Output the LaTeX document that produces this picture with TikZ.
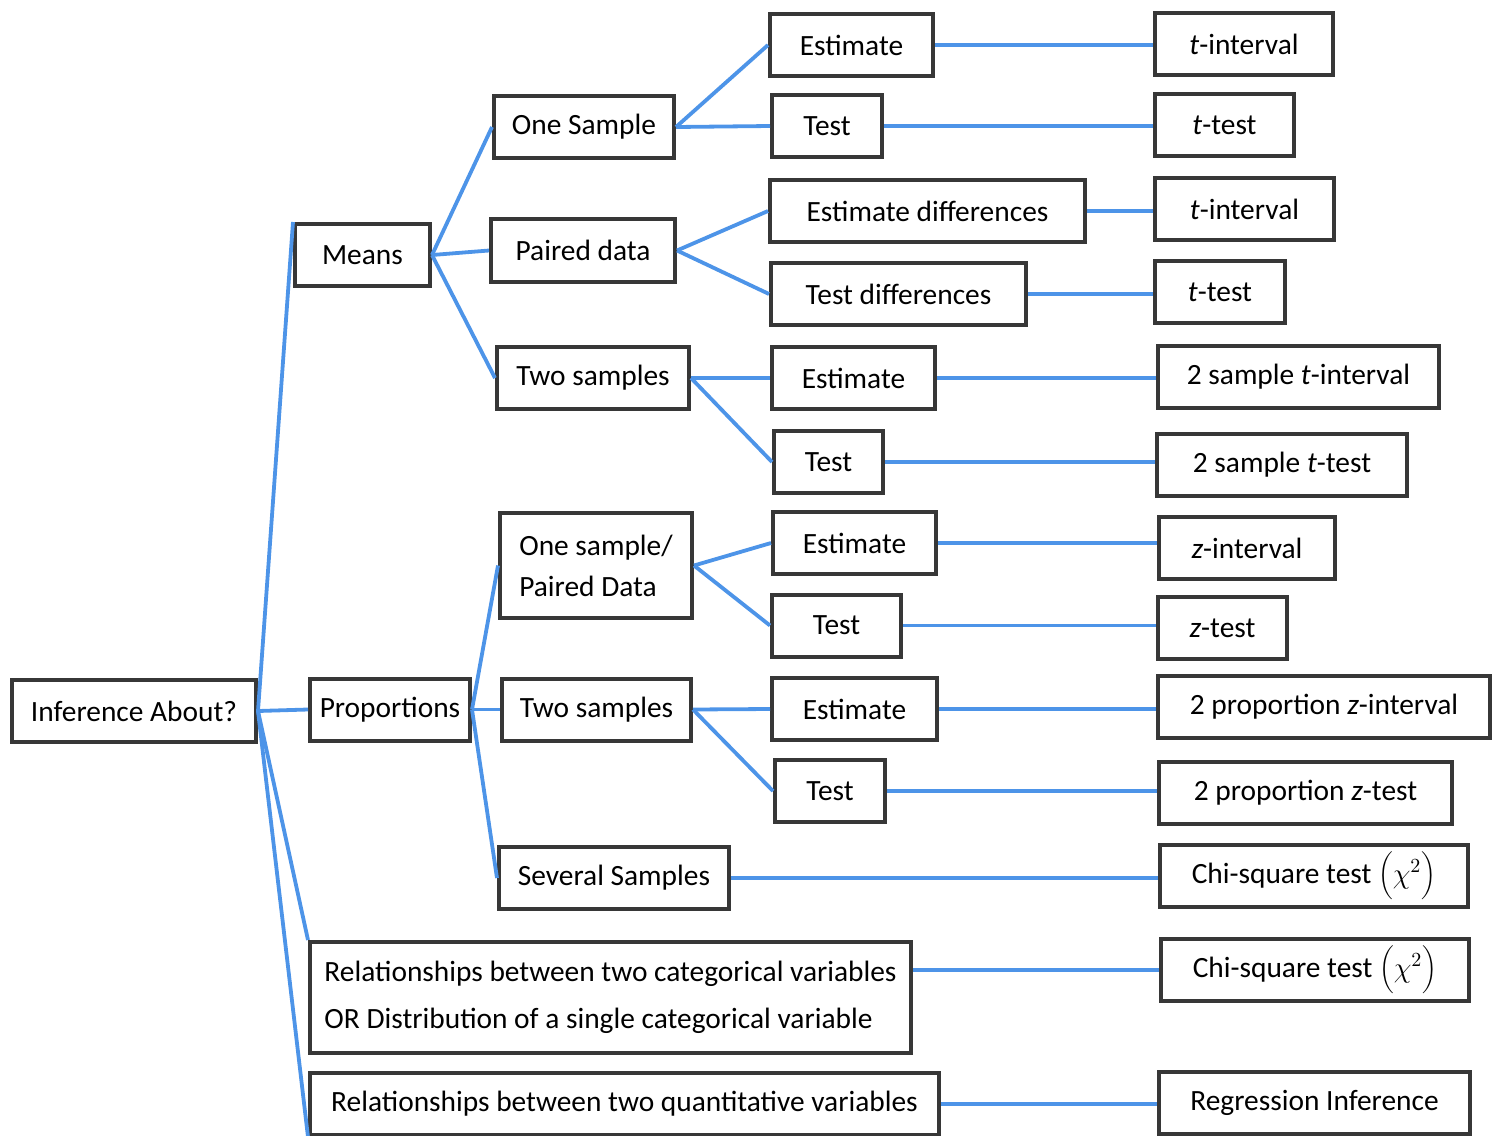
\documentclass[tikz,border=0pt]{standalone}
\usepackage{fontspec}
\setmainfont{Carlito}
\definecolor{linkblue}{RGB}{77,148,232}
\definecolor{boxgray}{RGB}{55,55,55}
\newcommand{\boxfont}{\fontsize{14.7}{20.5}\selectfont}
\newcommand{\chisq}{$\biggl(\chi^{2}\biggr)$}

\begin{document}
\begin{tikzpicture}[x=0.5pt, y=-0.5pt,
    box/.style={draw=boxgray, line width=2pt, fill=white, inner sep=0pt,
                minimum height=31pt, font=\boxfont},
    link/.style={draw=linkblue, line width=1.9pt}]
    \useasboundingbox (0,0) rectangle (1501,1136);

    % Root and first level
    \node[box, minimum width=122pt] (inf) at (134,711) {Inference About?};
    \node[box, minimum width=67.5pt] (means) at (362.5,255) {Means};
    \node[box, minimum width=80pt] (prop) at (390,709.5) {Proportions};
    \node[box, minimum width=300.5pt, minimum height=55.5pt, align=left,
          font=\fontsize{14.7}{23.5}\selectfont] (relcat) at (610.5,997.5)
          {Relationships between two categorical variables\\OR Distribution of a single categorical variable};
    \node[box, minimum width=314.5pt] (relquant) at (624.5,1104) {Relationships between two quantitative variables};

    % Second level: means
    \node[box, minimum width=90pt] (onesamp) at (584,127) {One Sample};
    \node[box, minimum width=92pt, minimum height=31.5pt] (paired) at (583,250.5) {Paired data};
    \node[box, minimum width=96pt] (twosamp) at (593,378) {Two samples};

    % Second level: proportions
    \node[box, minimum width=96pt, minimum height=52.5pt, align=left] (onepaired) at (596,565.5) {One sample/\\Paired Data};
    \node[box, minimum width=94.5pt] (twoprop) at (596.5,709.5) {Two samples};
    \node[box, minimum width=115pt] (several) at (614,878) {Several Samples};

    % Third level: estimate or test
    \node[box, minimum width=81.5pt] (esta) at (851.5,45) {Estimate};
    \node[box, minimum width=55pt] (testa) at (827,126) {Test};
    \node[box, minimum width=157.5pt] (estd) at (927.5,211) {Estimate differences};
    \node[box, minimum width=127.5pt] (testd) at (898.5,294) {Test differences};
    \node[box, minimum width=81.5pt] (estb) at (853.5,378) {Estimate};
    \node[box, minimum width=54.5pt] (testb) at (828.5,462) {Test};
    \node[box, minimum width=81.5pt] (estc) at (854.5,543) {Estimate};
    \node[box, minimum width=64.5pt] (testc) at (836.5,625.5) {Test};
    \node[box, minimum width=82.5pt] (este) at (854.5,709) {Estimate};
    \node[box, minimum width=55pt] (teste) at (830,791) {Test};

    % Procedures
    \node[box, minimum width=89pt] (tint1) at (1244,44) {\textit{t}-interval};
    \node[box, minimum width=69.5pt] (ttest1) at (1224.5,125) {\textit{t}-test};
    \node[box, minimum width=89.5pt] (tint2) at (1244.5,209) {\textit{t}-interval};
    \node[box, minimum width=65pt] (ttest2) at (1220,292) {\textit{t}-test};
    \node[box, minimum width=140.5pt] (tint3) at (1298.5,377) {2 sample \textit{t}-interval};
    \node[box, minimum width=125pt] (ttest3) at (1282,465) {2 sample \textit{t}-test};
    \node[box, minimum width=88pt] (zint1) at (1247,548) {\textit{z}-interval};
    \node[box, minimum width=64.5pt] (ztest1) at (1222.5,628) {\textit{z}-test};
    \node[box, minimum width=166pt] (zint2) at (1324,707) {2 proportion \textit{z}-interval};
    \node[box, minimum width=146.5pt] (ztest2) at (1305.5,793) {2 proportion \textit{z}-test};
    \node[box, minimum width=154pt] (chi1) at (1314,876) {Chi-square test \chisq};
    \node[box, minimum width=154pt] (chi2) at (1315,970) {Chi-square test \chisq};
    \node[box, minimum width=155.5pt] (regr) at (1314.5,1103) {Regression Inference};

    % Branches from the root
    \draw[link] (inf.east) -- (means.north west);
    \draw[link] (inf.east) -- (prop.west);
    \draw[link] (inf.east) -- (relcat.north west);
    \draw[link] (inf.east) -- (relquant.south west);

    \draw[link] (means.east) -- (onesamp.west);
    \draw[link] (means.east) -- (paired.west);
    \draw[link] (means.east) -- (twosamp.west);

    \draw[link] (prop.east) -- (onepaired.west);
    \draw[link] (prop.east) -- (twoprop.west);
    \draw[link] (prop.east) -- (several.west);

    \draw[link] (onesamp.east) -- (esta.west);
    \draw[link] (onesamp.east) -- (testa.west);
    \draw[link] (paired.east) -- (estd.west);
    \draw[link] (paired.east) -- (testd.west);
    \draw[link] (twosamp.east) -- (estb.west);
    \draw[link] (twosamp.east) -- (testb.west);
    \draw[link] (onepaired.east) -- (estc.west);
    \draw[link] (onepaired.east) -- (testc.west);
    \draw[link] (twoprop.east) -- (este.west);
    \draw[link] (twoprop.east) -- (teste.west);

    % Links to the procedures, kept level
    \draw[link] (esta.east) -- (esta.east -| tint1.west);
    \draw[link] (testa.east) -- (testa.east -| ttest1.west);
    \draw[link] (estd.east) -- (estd.east -| tint2.west);
    \draw[link] (testd.east) -- (testd.east -| ttest2.west);
    \draw[link] (estb.east) -- (estb.east -| tint3.west);
    \draw[link] (testb.east) -- (testb.east -| ttest3.west);
    \draw[link] (estc.east) -- (estc.east -| zint1.west);
    \draw[link] (testc.east) -- (testc.east -| ztest1.west);
    \draw[link] (este.east) -- (este.east -| zint2.west);
    \draw[link] (teste.east) -- (teste.east -| ztest2.west);
    \draw[link] (several.east) -- (several.east -| chi1.west);
    \draw[link] (relcat.east |- chi2.west) -- (chi2.west);
    \draw[link] (relquant.east) -- (relquant.east -| regr.west);

\end{tikzpicture}
\end{document}
